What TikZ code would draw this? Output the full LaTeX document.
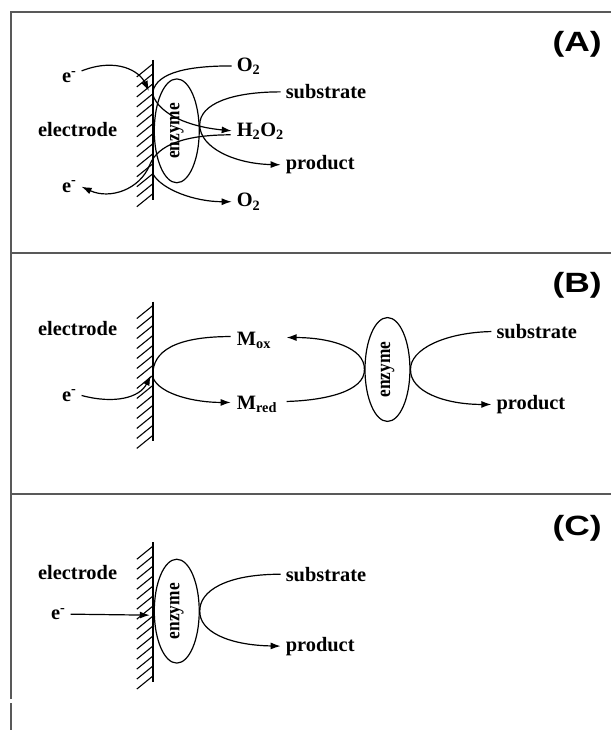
\documentclass[tikz,border=0pt]{standalone}
\usepackage{fontspec}
\setmainfont{Liberation Serif}
\newfontfamily\tagfont{Liberation Sans}
\usetikzlibrary{arrows.meta,shapes.geometric}

\begin{document}
\begin{tikzpicture}[x=1bp,y=-1bp,
  lbl/.style={font=\fontsize{20.5}{24}\selectfont\bfseries, inner xsep=5bp, inner ysep=0pt, anchor=west},
  tag/.style={font=\fontsize{28}{32}\selectfont\tagfont\bfseries, inner sep=0pt, xscale=1.27},
  enz/.style={ellipse, draw, line width=1.2bp, minimum width=45bp, minimum height=104bp, inner sep=0pt,
              font=\fontsize{20}{24}\selectfont\bfseries},
  flow/.style={line width=1.2bp},
  arr/.style={flow, -{Latex[length=10bp,width=7bp]}},
  frame/.style={draw=black!65, line width=2bp},
  wall/.style={line width=1.5bp},
  hatch/.style={line width=1.1bp}
]
\fill[white] (0,0) rectangle (612,731);

% outer frame and panel separators
\draw[frame] (11,700) -- (11,12) -- (612,12);
\draw[frame] (11,704) -- (11,731);
\draw[frame] (11,253) -- (612,253);
\draw[frame] (11,495) -- (612,495);

% hatched electrode surfaces
\foreach \top in {60,302,543}{
  \begin{scope}[shift={(153,\top)}]
    \draw[wall] (0,0) -- (0,140);
    \foreach \k in {0,...,13}
      \draw[hatch] (0,4+\k*10) -- (-16,17+\k*10);
  \end{scope}
}

\newcommand\enzlabel{\rotatebox{90}{\scalebox{0.87}[1]{enzyme}}}

% ---------- panel A: oxygen / peroxide mediated ----------
\node[tag] (tagA) at (578,44) {(A)};
\node[lbl] (elecA) at (33,130) {electrode};
\node[lbl] (eA1) at (57,77) {e\textsuperscript{-}};
\node[lbl] (eA2) at (57,187) {e\textsuperscript{-}};
\node[lbl] (O2a) at (232,66) {O\textsubscript{2}};
\node[lbl] (subA) at (281,92) {substrate};
\node[lbl] (H2O2) at (232,131) {H\textsubscript{2}O\textsubscript{2}};
\node[lbl] (prodA) at (281,165) {product};
\node[lbl] (O2b) at (232,202) {O\textsubscript{2}};
\node[enz] (enzA) at (177,131) {\enzlabel};

\coordinate (cA1) at (149,91);
\coordinate (cA2) at (153,92);
\coordinate (cA3) at (153,95);
\coordinate (cA4) at (200,125);
\coordinate (cA5) at (231,135);
\coordinate (cA6) at (153,174);
\coordinate (cA7) at (150,165);

\draw[arr] (eA1.north east) .. controls (118,57) and (140,72) .. (cA1);
\draw[flow] (O2a.west) .. controls (190,66) and (157,72) .. (cA2);
\draw[arr] (cA3) .. controls (160,115) and (190,127) .. (H2O2.west);
\draw[arr] (subA.west) .. controls (232,92) and (200,104) .. (cA4)
           .. controls (200,148) and (235,164) .. (prodA.west);
\draw[arr] (cA5) .. controls (185,135) and (158,145) .. (cA7)
           .. controls (140,190) and (110,200) .. (eA2.east);
\draw[arr] (cA6) .. controls (162,190) and (195,202) .. (O2b.west);

% ---------- panel B: mediator shuttle ----------
\node[tag] (tagB) at (578,286) {(B)};
\node[lbl] (elecB) at (33,329) {electrode};
\node[lbl] (eB) at (57,396) {e\textsuperscript{-}};
\node[lbl] (Mox) at (232,341) {M\textsubscript{ox}};
\node[lbl] (Mred) at (232,405) {M\textsubscript{red}};
\node[lbl] (subB) at (492,332) {substrate};
\node[lbl] (prodB) at (492,405) {product};
\node[enz] (enzB) at (388,370) {\enzlabel};

\coordinate (cB1) at (151,376);
\coordinate (cB2) at (153,375);
\coordinate (cB3) at (153,378);
\coordinate (cB4) at (287,402);
\coordinate (cB5) at (287,338);
\coordinate (cB6) at (231,337);
\coordinate (cB7) at (231,403);

\draw[arr] (eB.east) .. controls (115,405) and (140,398) .. (cB1);
\draw[flow] (cB6) .. controls (175,337) and (153,352) .. (cB2);
\draw[arr] (cB3) .. controls (160,395) and (195,403) .. (cB7);
\draw[arr] (cB4) .. controls (325,401) and (365.5,392) .. (enzB.west)
           .. controls (365.5,348) and (330,338) .. (cB5);
\draw[arr] (subB.west) .. controls (445,333) and (410.5,350) .. (enzB.east)
           .. controls (410.5,392) and (445,405) .. (prodB.west);

% ---------- panel C: direct electron transfer ----------
\node[tag] (tagC) at (578,529) {(C)};
\node[lbl] (elecC) at (33,573) {electrode};
\node[lbl] (eC) at (46,615) {e\textsuperscript{-}};
\node[lbl] (subC) at (281,575) {substrate};
\node[lbl] (prodC) at (281,647) {product};
\node[enz] (enzC) at (177,612) {\enzlabel};

\coordinate (cC1) at (150,616);

\draw[arr] (eC.east) -- (cC1);
\draw[arr] (subC.west) .. controls (226,575) and (199.5,592) .. (enzC.east)
           .. controls (199.5,632) and (228,646) .. (prodC.west);

\end{tikzpicture}
\end{document}
